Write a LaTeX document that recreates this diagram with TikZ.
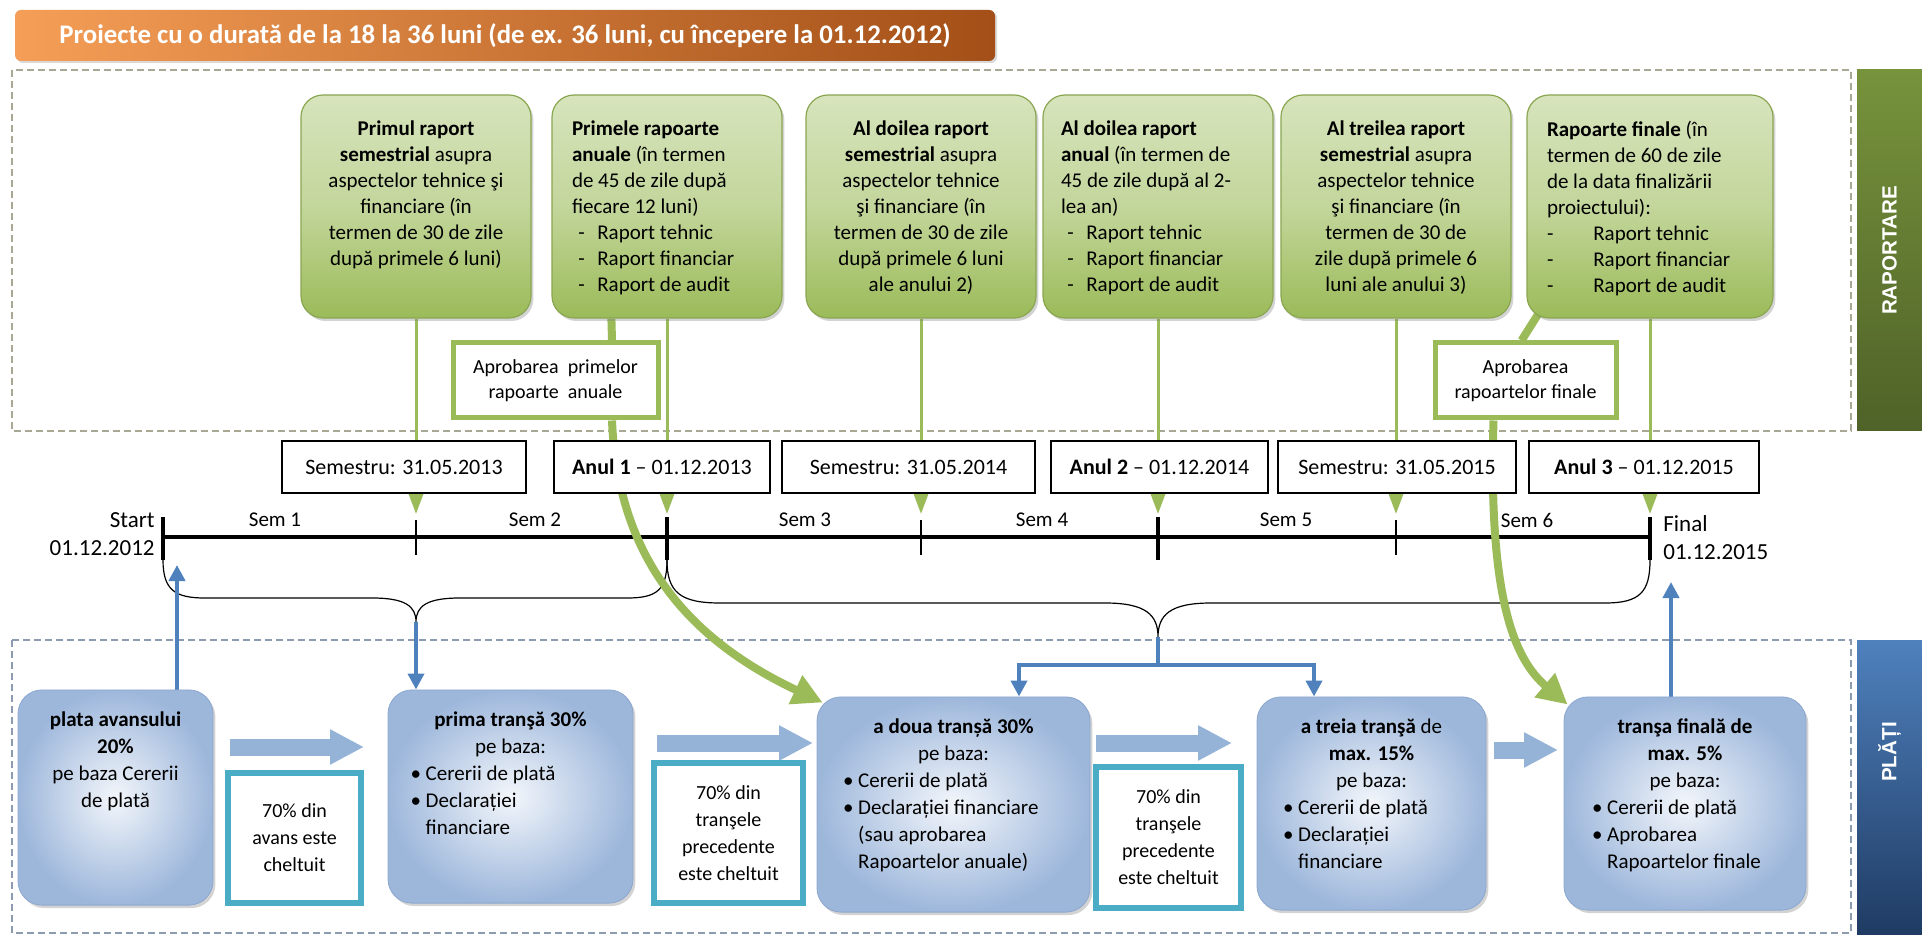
\documentclass[tikz,border=0pt]{standalone}
\usepackage{fontspec}
\setmainfont{Carlito}
\newfontfamily\arialf{Liberation Sans}
\usetikzlibrary{arrows.meta,shadows}

\pgfdeclarelayer{fundal}
\pgfdeclarelayer{linii}
\pgfsetlayers{fundal,linii,main}

\definecolor{verdeLinie}{HTML}{9BBB59}
\definecolor{verdeSus}{HTML}{D7E4BD}
\definecolor{verdeMij}{HTML}{C3D69B}
\definecolor{verdeJos}{HTML}{9BBB59}
\definecolor{verdeContur}{HTML}{8AA651}
\definecolor{verdeBaraL}{HTML}{77933C}
\definecolor{verdeBaraR}{HTML}{4F6228}
\definecolor{albastruLinie}{HTML}{4F81BD}
\definecolor{albastruDeschis}{HTML}{F3F6FB}
\definecolor{albastruInchis}{HTML}{9DB7DB}
\definecolor{albastruContur}{HTML}{8CA7CF}
\definecolor{albastruSageata}{HTML}{95B3D7}
\definecolor{albastruBaraL}{HTML}{4F81BD}
\definecolor{albastruBaraR}{HTML}{1F3B63}
\definecolor{turcoaz}{HTML}{4BACC6}
\definecolor{portocaliuL}{HTML}{F59E57}
\definecolor{portocaliuR}{HTML}{A34F17}
\definecolor{griVerde}{HTML}{A8A894}
\definecolor{griAlbastru}{HTML}{8C9BB0}

\tikzset{
  titlu/.style={rounded corners=3pt, left color=portocaliuL, right color=portocaliuR,
    text=white, font=\bfseries\fontsize{13.4}{15}\selectfont,
    drop shadow={shadow xshift=1pt, shadow yshift=-1pt, opacity=0.3}},
  bara/.style={inner sep=0pt, minimum height=32.5pt, text=white,
    font=\arialf\bfseries\fontsize{10.3}{12}\selectfont},
  raport/.style={rounded corners=11pt, draw=verdeContur, line width=0.6pt,
    top color=verdeSus, bottom color=verdeJos, middle color=verdeMij,
    drop shadow={shadow xshift=1.2pt, shadow yshift=-1.5pt, opacity=0.35},
    minimum width=115pt, minimum height=111.5pt, inner xsep=2.5pt, inner ysep=13pt,
    font=\fontsize{10.5}{13}\selectfont},
  data/.style={draw, line width=0.7pt, fill=white, minimum height=26pt, inner sep=0pt,
    font=\fontsize{11}{13}\selectfont},
  aprobare/.style={draw=verdeLinie, line width=2.5pt, fill=white, minimum height=37.5pt,
    inner sep=0pt, align=center, font=\fontsize{10}{12.5}\selectfont},
  plata/.style={rounded corners=12pt, inner color=albastruDeschis, outer color=albastruInchis,
    draw=albastruContur, line width=0.4pt,
    drop shadow={shadow xshift=1.2pt, shadow yshift=-1.5pt, opacity=0.35},
    inner xsep=2pt, inner ysep=10.8pt, font=\fontsize{10.5}{13.5}\selectfont},
  conditie/.style={draw=turcoaz, line width=3pt, fill=white, align=center, inner sep=0pt,
    font=\fontsize{10}{13.5}\selectfont},
  eticheta/.style={inner sep=0pt, font=\fontsize{10.5}{12}\selectfont},
  etichetamare/.style={inner sep=0pt, font=\fontsize{11.5}{13}\selectfont},
  zona/.style={draw=griVerde, line width=0.8pt, dash pattern=on 3.5pt off 2pt},
  axa/.style={line width=2.25pt},
  verde/.style={draw=verdeLinie, line width=1.5pt, -{Triangle[length=10pt,width=7pt]}},
  verdegros/.style={draw=verdeLinie, line width=4pt},
  albastru/.style={draw=albastruLinie, line width=2pt, -{Triangle[length=8pt,width=8pt]}},
  sageatabloc/.style={draw=albastruSageata, line width=8.5pt, -{Triangle[length=17pt,width=16.5pt]}},
  acolada/.style={line width=0.6pt}
}

\begin{document}
\begin{tikzpicture}[x=0.5pt,y=-0.5pt]
\useasboundingbox (0,0) rectangle (1922,935);

% antet si benzi laterale
\node[titlu, minimum width=490pt, minimum height=25.5pt] (antet) at (505,35.5)
  {Proiecte cu o durată de la 18 la 36 luni (de ex. 36 luni, cu începere la 01.12.2012)};
\node[bara, rotate=90, minimum width=180.5pt, top color=verdeBaraL, bottom color=verdeBaraR] (raportare) at (1889.5,250.5) {RAPORTARE};
\node[bara, rotate=90, minimum width=147.5pt, top color=albastruBaraL, bottom color=albastruBaraR] (plati) at (1889.5,787.5) {};
\node[bara, rotate=90] (tplati) at (1889.5,752) {PLĂȚI};

% rapoarte
\node[raport] (b1) at (416,206.5) {\parbox[c][85.5pt][t]{110pt}{\centering
  \textbf{Primul raport}\\\textbf{semestrial} asupra\\aspectelor tehnice şi\\financiare (în\\termen de 30 de zile\\după primele 6 luni)}};
\node[raport] (b2) at (667,206.5) {\parbox[c][85.5pt][t]{95pt}{\raggedright
  \textbf{Primele rapoarte}\\\textbf{anuale} (în termen\\de 45 de zile după\\fiecare 12 luni)\\
  \hspace*{0.3em}-\hspace{0.6em}Raport tehnic\\\hspace*{0.3em}-\hspace{0.6em}Raport financiar\\\hspace*{0.3em}-\hspace{0.6em}Raport de audit}};
\node[raport] (b3) at (921,206.5) {\parbox[c][85.5pt][t]{110pt}{\centering
  \textbf{Al doilea raport}\\\textbf{semestrial} asupra\\aspectelor tehnice\\şi financiare (în\\termen de 30 de zile\\după primele 6 luni\\ale anului 2)}};
\node[raport] (b4) at (1158,206.5) {\parbox[c][85.5pt][t]{97pt}{\raggedright
  \textbf{Al doilea raport}\\\textbf{anual} (în termen de\\45 de zile după al 2-\\lea an)\\
  \hspace*{0.3em}-\hspace{0.6em}Raport tehnic\\\hspace*{0.3em}-\hspace{0.6em}Raport financiar\\\hspace*{0.3em}-\hspace{0.6em}Raport de audit}};
\node[raport] (b5) at (1396,206.5) {\parbox[c][85.5pt][t]{110pt}{\centering
  \textbf{Al treilea raport}\\\textbf{semestrial} asupra\\aspectelor tehnice\\şi financiare (în\\termen de 30 de\\zile după primele 6\\luni ale anului 3)}};
\node[raport, minimum width=123pt] (b6) at (1650,206.5) {\parbox[c][85.5pt][t]{103pt}{\raggedright
  \textbf{Rapoarte finale} (în\\termen de 60 de zile\\de la data finalizării\\proiectului):\\
  -\hspace{1.9em}Raport tehnic\\-\hspace{1.9em}Raport financiar\\-\hspace{1.9em}Raport de audit}};

\node[aprobare, minimum width=102.5pt] (apr1) at (555.5,380.5) {Aprobarea\ \ primelor\\rapoarte\ \ anuale};
\node[aprobare, minimum width=90.5pt] (apr2) at (1525.5,380.5) {Aprobarea\\rapoartelor finale};

% date
\node[data, minimum width=122pt] (ds1) at (404,467) {Semestru: 31.05.2013};
\node[data, minimum width=108pt] (da1) at (662,467) {\textbf{Anul 1} – 01.12.2013};
\node[data, minimum width=126.5pt] (ds2) at (908.5,467) {Semestru: 31.05.2014};
\node[data, minimum width=108.5pt] (da2) at (1159.5,467) {\textbf{Anul 2} – 01.12.2014};
\node[data, minimum width=119pt] (ds3) at (1397,467) {Semestru: 31.05.2015};
\node[data, minimum width=115pt] (da3) at (1644,467) {\textbf{Anul 3} – 01.12.2015};

% axa timpului
\coordinate (t0) at (163,537);
\coordinate (t1) at (416,537);
\coordinate (t2) at (667,537);
\coordinate (t3) at (921,537);
\coordinate (t4) at (1158,537);
\coordinate (t5) at (1396,537);
\coordinate (t6) at (1650,537);
\node[eticheta] (sem1) at (275,520) {Sem 1};
\node[eticheta] (sem2) at (535,520) {Sem 2};
\node[eticheta] (sem3) at (805,520) {Sem 3};
\node[eticheta] (sem4) at (1042,520) {Sem 4};
\node[eticheta] (sem5) at (1286,520) {Sem 5};
\node[eticheta] (sem6) at (1527,520) {Sem 6};
\node[etichetamare, anchor=east] (start) at (155,520) {Start};
\node[etichetamare, anchor=east] (dstart) at (155,548) {01.12.2012};
\node[etichetamare, anchor=west] (final) at (1663,524) {Final};
\node[etichetamare, anchor=west] (dfinal) at (1663,552) {01.12.2015};

% plati
\node[plata, minimum width=97.5pt, minimum height=107.5pt] (p1) at (115.5,797.5) {\parbox[c][86pt][t]{85pt}{\centering
  \textbf{plata avansului}\\\textbf{20\%}\\pe baza Cererii\\de plată}};
\node[plata, minimum width=122.5pt, minimum height=106.5pt] (p2) at (510.5,796.5) {\parbox[c][85pt][t]{100pt}{\centering
  \textbf{prima tranşă 30\%}\\pe baza:\par\raggedright
  •~Cererii de plată\\•~Declarației\\\hphantom{•~}financiare}};
\node[plata, minimum width=136.5pt, minimum height=107.5pt] (p3) at (953.5,804.5) {\parbox[c][86pt][t]{110.5pt}{\centering
  \textbf{a doua tranșă 30\%}\\pe baza:\par\raggedright
  •~Cererii de plată\\•~Declarației financiare\\\hphantom{•~}(sau aprobarea\\\hphantom{•~}Rapoartelor anuale)}};
\node[plata, minimum width=114.5pt, minimum height=106.5pt] (p4) at (1371.5,803.5) {\parbox[c][85pt][t]{88.5pt}{\centering
  \textbf{a treia tranşă} de\\\textbf{max. 15\%}\\pe baza:\par\raggedright
  •~Cererii de plată\\•~Declarației\\\hphantom{•~}financiare}};
\node[plata, minimum width=121pt, minimum height=106.5pt] (p5) at (1685,803.5) {\parbox[c][85pt][t]{93pt}{\centering
  \textbf{tranşa finală  de}\\\textbf{max. 5\%}\\pe baza:\par\raggedright
  •~Cererii de plată\\•~Aprobarea\\\hphantom{•~}Rapoartelor finale}};

\node[conditie, minimum width=66.5pt, minimum height=65pt] (c1) at (294.5,838) {70\% din\\avans este\\cheltuit};
\node[conditie, minimum width=74.5pt, minimum height=70pt] (c2) at (728.5,833) {70\% din\\tranşele\\precedente\\este cheltuit};
\node[conditie, minimum width=72.5pt, minimum height=70.5pt] (c3) at (1168.5,837.5) {70\% din\\tranşele\\precedente\\este cheltuit};

\coordinate (acol1) at (416,622);
\coordinate (acol2) at (1158,637);
\coordinate (s1) at (230,747);
\coordinate (e1) at (364,747);
\coordinate (s2) at (657,743);
\coordinate (e2) at (813,743);
\coordinate (s3) at (1096,743);
\coordinate (e3) at (1232,743);
\coordinate (s4) at (1494,750);
\coordinate (e4) at (1558,750);

\begin{pgfonlayer}{fundal}
\draw[zona] (12,70) rectangle (1851,431);
\draw[zona, draw=griAlbastru] (12,640) rectangle (1851,933);
\end{pgfonlayer}

\begin{pgfonlayer}{linii}
\draw[axa] (t0) -- (t6);
\foreach \t in {t0,t2,t4,t6}
  \draw[line width=2pt] ([yshift=10pt]\t) -- ([yshift=-11.5pt]\t);
\foreach \t in {t1,t3,t5}
  \draw[line width=0.6pt] ([yshift=8.5pt]\t) -- ([yshift=-9pt]\t);

% acolade
\draw[acolada] ([yshift=-11.5pt]t0) .. controls (163,590) and (175,598) .. (205,598) -- (372,598)
  .. controls (405,598) and (416,606) .. (acol1) .. controls (416,606) and (427,598) .. (460,598)
  -- (627,598) .. controls (657,598) and (667,590) .. ([yshift=-11.5pt]t2);
\draw[acolada] ([yshift=-11.5pt]t2) .. controls (667,592) and (680,603) .. (720,603) -- (1105,603)
  .. controls (1146,603) and (1158,615) .. (acol2) .. controls (1158,615) and (1170,603) .. (1211,603)
  -- (1605,603) .. controls (1640,603) and (1650,592) .. ([yshift=-11.5pt]t6);

% rapoarte -> axa
\foreach \b/\t in {b1/t1,b2/t2,b3/t3,b4/t4,b5/t5,b6/t6}
  \draw[verde, shorten >=11.5pt] (\b) -- (\t);

% aprobari -> plati
\draw[verdegros] ([xshift=30pt]b2.south west) -- ([xshift=28.25pt]apr1.north);
\draw[verdegros, -{Triangle[length=15pt,width=15pt]}] ([xshift=28.25pt]apr1.south)
  .. controls (618,560) and (690,640) .. ([shift={(3pt,-3pt)}]p3.north west);
\draw[verdegros] ([xshift=7pt,yshift=4pt]b6.south west) -- ([xshift=-2pt]apr2.north);
\draw[verdegros, -{Triangle[length=15pt,width=15pt]}] ([xshift=-16pt]apr2.south)
  .. controls (1488,600) and (1515,660) .. ([shift={(2pt,-4pt)}]p5.north west);

% plati <-> axa
\draw[albastru] ([xshift=30.75pt]p1.north) -- ([xshift=7pt,yshift=-14pt]t0);
\draw[albastru] (acol1) -- (p2.north -| acol1);
\draw[albastru, -] (acol2) -- ++(0,28) coordinate (ramif);
\draw[albastru] (ramif) -| ([xshift=32.75pt]p3.north);
\draw[albastru] (ramif) -| ([xshift=-28.75pt]p4.north);
\draw[albastru] ([xshift=-7pt]p5.north) -- ([xshift=10.5pt,yshift=-22.5pt]t6);

% sageti intre plati
\draw[sageatabloc] (s1) -- (e1);
\draw[sageatabloc] (s2) -- (e2);
\draw[sageatabloc] (s3) -- (e3);
\draw[sageatabloc] (s4) -- (e4);
\end{pgfonlayer}
\end{tikzpicture}
\end{document}
